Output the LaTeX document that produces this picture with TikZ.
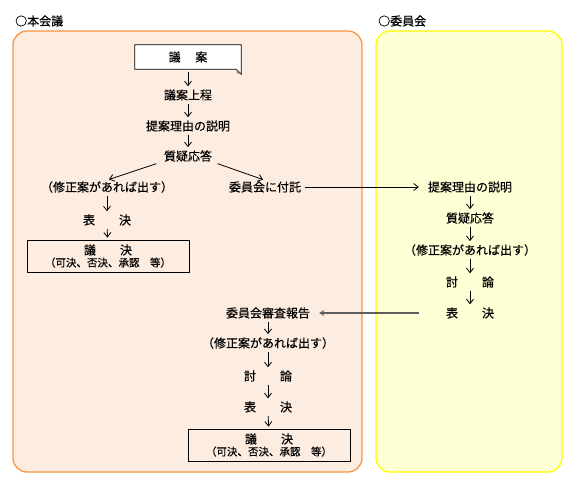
\documentclass[tikz,border=0pt]{standalone}
\usepackage{fontspec}
\setmainfont{Noto Sans CJK JP}[FakeBold=0.4]
\usetikzlibrary{arrows.meta,positioning}
\definecolor{HonkaiLine}{RGB}{247,150,70}
\definecolor{HonkaiFill}{RGB}{253,237,225}
\definecolor{IinkaiLine}{RGB}{255,255,0}
\definecolor{IinkaiFill}{RGB}{255,255,214}
\definecolor{ReportGray}{RGB}{95,95,95}

\begin{document}
\begin{tikzpicture}[x=1pt, y=-1pt, >={Straight Barb[length=4.5pt,width=7pt]}, font=\fontsize{12}{14}\selectfont,
    every node/.style={inner sep=1pt},
    flow/.style={->, line width=0.8pt, shorten <=2.5pt, shorten >=2pt},
    result/.style={draw, line width=0.8pt, minimum width=162pt, minimum height=32pt, align=center, inner sep=0pt}]
  \useasboundingbox (0,0) rectangle (577,488);
  % frames
  \draw[HonkaiLine, fill=HonkaiFill, line width=1.3pt, rounded corners=14pt] (13,31) rectangle (362,472);
  \draw[IinkaiLine, fill=IinkaiFill, line width=1.3pt, rounded corners=14pt] (376,31) rectangle (562,472);
  \node[anchor=west] (honkai) at (14,21) {○本会議};
  \node[anchor=west] (iinkai) at (377,21) {○委員会};

  % plenary session
  \node[minimum width=106pt, minimum height=24pt] (gian) at (188,57) {};
  \draw[fill=white, line width=0.8pt] (gian.north west) -- (gian.north east) -- ([yshift=-5pt]gian.south east)
    -- ([xshift=-5pt]gian.south east) -- (gian.south west) -- cycle;
  \fill[gray] ([yshift=-5pt]gian.south east) -- ([xshift=-5pt]gian.south east) -- ([xshift=-4pt,yshift=-4pt]gian.south east) -- cycle;
  \node at (gian) {議　 案};
  \node (jotei) at (188,95) {議案上程};
  \node (riyu) at (188,126) {提案理由の説明};
  \node (shitsugi) at (188,156) {質疑応答};
  \node (shusei) at (107,187) {（修正案があれば出す）};
  \node (futaku) at (265,187) {委員会に付託};
  \node (hyoketsu) at (107,220) {表　　決};
  \node[result] (giketsu) at (108,256) {議　　決\\[-2pt]{\fontsize{10.5}{12}\selectfont（可決、否決、承認　等）}};
  \draw[flow] (gian) -- (jotei);
  \draw[flow] (jotei) -- (riyu);
  \draw[flow] (riyu) -- (shitsugi);
  \draw[flow] ([xshift=-4pt]shitsugi.south west) -- (shusei.north);
  \draw[flow] ([xshift=2pt]shitsugi.south east) -- (futaku.north);
  \draw[flow] (shusei) -- (hyoketsu);
  \draw[flow] (hyoketsu) -- (giketsu);

  % committee
  \node (riyuB) at (470,187) {提案理由の説明};
  \node (shitsugiB) at (470,218) {質疑応答};
  \node (shuseiB) at (470,250) {（修正案があれば出す）};
  \node (toronB) at (470,282) {討　　論};
  \node (hyoketsuB) at (470,313) {表　　決};
  \draw[flow, shorten >=8pt] (futaku) -- (riyuB);
  \draw[flow] (riyuB) -- (shitsugiB);
  \draw[flow] (shitsugiB) -- (shuseiB);
  \draw[flow] (shuseiB) -- (toronB);
  \draw[flow] (toronB) -- (hyoketsuB);

  % committee report
  \node (shinsa) at (268,313) {委員会審査報告};
  \node (shuseiC) at (268,343) {（修正案があれば出す）};
  \node (toronC) at (268,376) {討　　論};
  \node (hyoketsuC) at (268,407) {表　　決};
  \node[result] (giketsuC) at (269,445) {議　　決\\[-2pt]{\fontsize{10.5}{12}\selectfont（可決、否決、承認　等）}};
  \draw[->, ReportGray, line width=1.3pt, >={Stealth[length=5pt,width=6pt]}, shorten <=26pt, shorten >=8pt] (hyoketsuB) -- (shinsa);
  \draw[flow] (shinsa) -- (shuseiC);
  \draw[flow] (shuseiC) -- (toronC);
  \draw[flow] (toronC) -- (hyoketsuC);
  \draw[flow] (hyoketsuC) -- (giketsuC);
\end{tikzpicture}
\end{document}
